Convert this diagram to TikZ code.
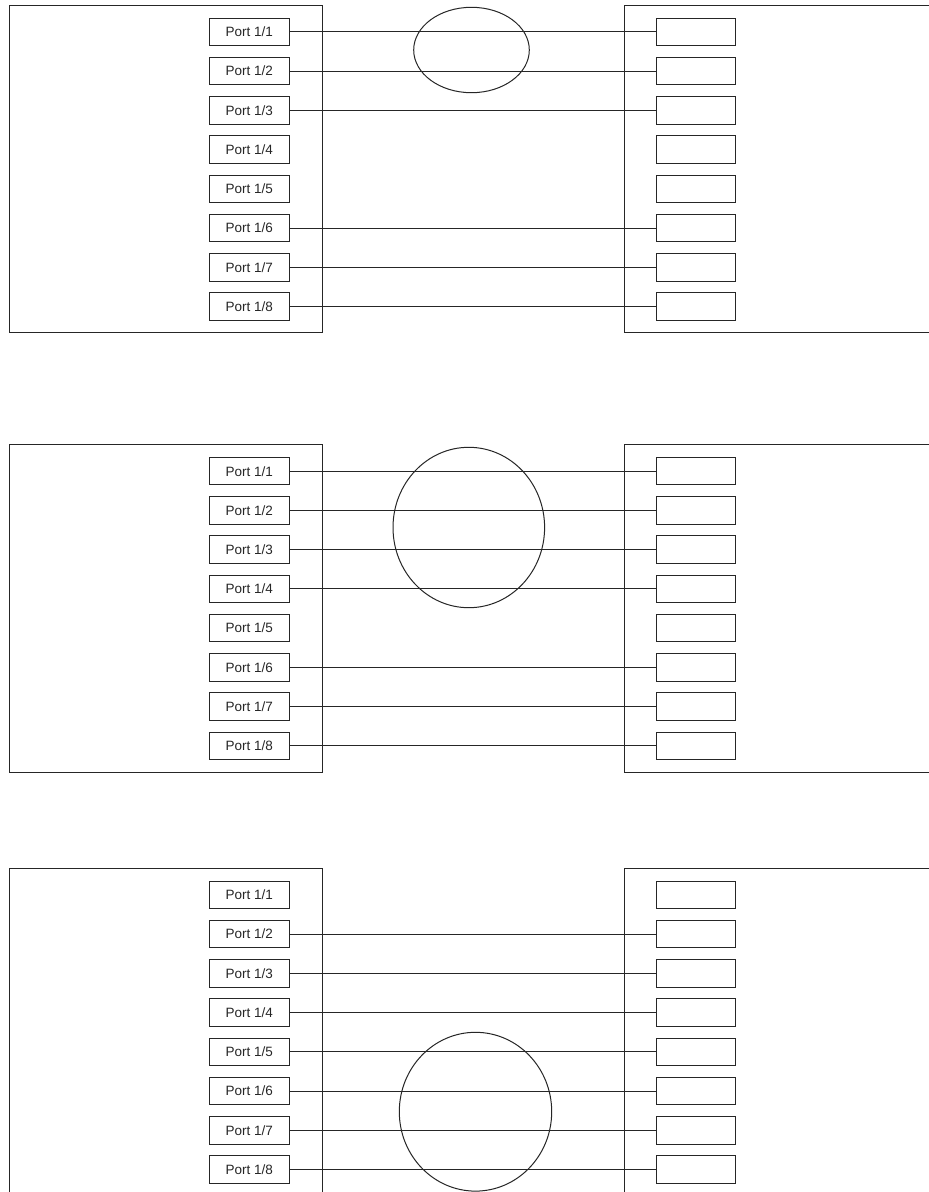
\documentclass[tikz,border=0pt]{standalone}
\usepackage{fontspec}
\setmainfont{Liberation Sans}
\usetikzlibrary{positioning, shapes.geometric}
\definecolor{wireink}{HTML}{262626}
\tikzset{
  chassis/.style={draw=wireink, line width=1pt, anchor=north west, inner sep=0pt,
    minimum height=327.6pt},
  portbox/.style={draw=wireink, line width=1pt, minimum width=79.5pt, minimum height=27.4pt,
    inner sep=0pt, font=\fontsize{13.5}{16}\selectfont, text=wireink},
  link/.style={draw=wireink, line width=1pt},
  bundle/.style={draw=wireink, ellipse, line width=1pt, inner sep=0pt}
}

\begin{document}
\begin{tikzpicture}[x=1pt, y=-1pt, node distance=10.84pt and 366.3pt]
\clip (0,0) rectangle (929,1192);
\fill[white] (0,0) rectangle (929,1192);
% three switch pairs, eight ports each
\foreach \pn/\ytop in {1/4.7, 2/444, 3/867.7} {
  \node[chassis, minimum width=313.5pt] (swA\pn) at (8.5,\ytop) {};
  \node[chassis, minimum width=330pt] (swB\pn) at (624.3,\ytop) {};
  \node[portbox] (a\pn-1) at (249.35,\ytop+27.2) {Port 1/1};
  \node[portbox, right=of a\pn-1] (b\pn-1) {};
  \foreach \i [remember=\i as \j (initially 1)] in {2,...,8} {
    \node[portbox, below=of a\pn-\j] (a\pn-\i) {Port 1/\i};
    \node[portbox, right=of a\pn-\i] (b\pn-\i) {};
  }
}
% cabling
\foreach \i in {1,2,3,6,7,8} \draw[link] (a1-\i) -- (b1-\i);
\foreach \i in {1,2,3,4,6,7,8} \draw[link] (a2-\i) -- (b2-\i);
\foreach \i in {2,3,4,5,6,7,8} \draw[link] (a3-\i) -- (b3-\i);
% channel groups
\node[bundle, minimum width=115.6pt, minimum height=85.4pt] (lag1) at (471.5,50) {};
\node[bundle, minimum width=151.6pt, minimum height=160.4pt] (lag2) at (468.8,527.5) {};
\node[bundle, minimum width=152.4pt, minimum height=158.8pt] (lag3) at (475.5,1111.7) {};
\end{tikzpicture}
\end{document}
